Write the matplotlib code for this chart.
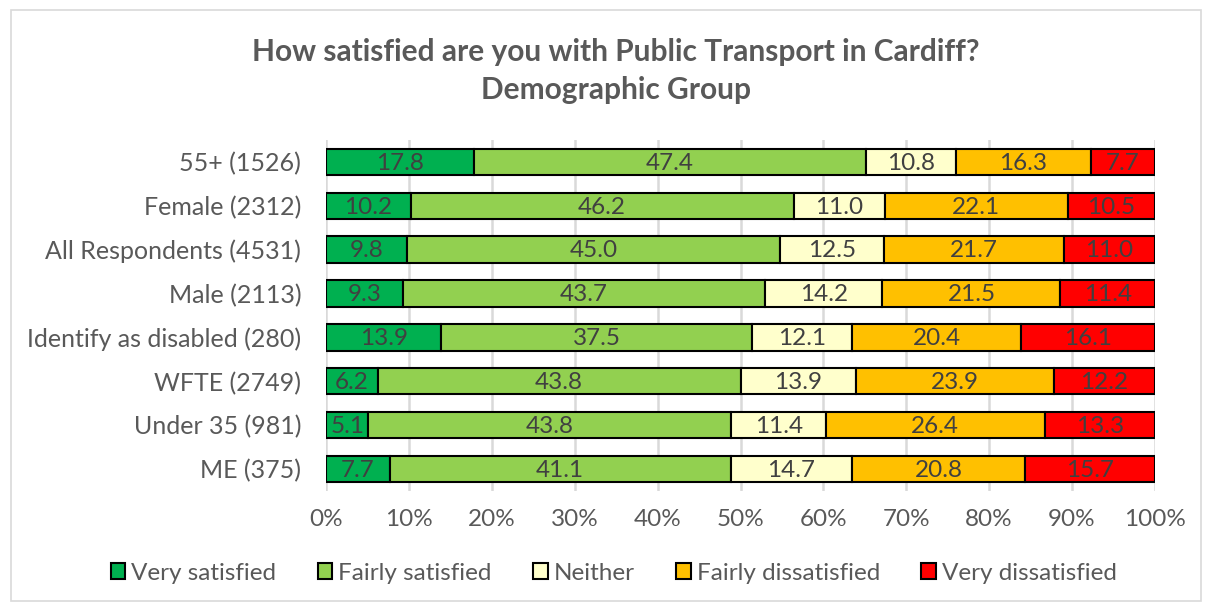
import matplotlib.pyplot as plt
import numpy as np
from matplotlib.patches import Rectangle

plt.rcParams['font.family'] = ['Lato', 'DejaVu Sans']

groups = ['55+ (1526)', 'Female (2312)', 'All Respondents (4531)', 'Male (2113)',
          'Identify as disabled (280)', 'WFTE (2749)', 'Under 35 (981)', 'ME (375)']
very_sat = [17.8, 10.2, 9.8, 9.3, 13.9, 6.2, 5.1, 7.7]
fairly_sat = [47.4, 46.2, 45.0, 43.7, 37.5, 43.8, 43.8, 41.1]
neither = [10.8, 11.0, 12.5, 14.2, 12.1, 13.9, 11.4, 14.7]
fairly_dis = [16.3, 22.1, 21.7, 21.5, 20.4, 23.9, 26.4, 20.8]
very_dis = [7.7, 10.5, 11.0, 11.4, 16.1, 12.2, 13.3, 15.7]

series = [('Very satisfied', very_sat, '#00B050'),
          ('Fairly satisfied', fairly_sat, '#92D050'),
          ('Neither', neither, '#FFFFCC'),
          ('Fairly dissatisfied', fairly_dis, '#FFC000'),
          ('Very dissatisfied', very_dis, '#FF0000')]

fig = plt.figure(figsize=(12.08, 6.06), dpi=100)
ax = fig.add_axes([0.270, 0.190, 0.686, 0.579])

y = np.arange(len(groups))
left = np.zeros(len(groups))
tot = np.array([very_sat, fairly_sat, neither, fairly_dis, very_dis]).sum(axis=0)
for name, vals, col in series:
    vals = np.array(vals)
    w = vals / tot
    bars = ax.barh(y, w, left=left, height=0.6, color=col, edgecolor='black',
                   linewidth=1.5, label=name, zorder=3)
    for i, b in enumerate(bars):
        ax.text(left[i] + w[i] / 2, y[i] + 0.03, f'{vals[i]:.1f}', ha='center', va='center',
                fontsize=17.5, color='#404040', zorder=4)
    left += w

ax.set_ylim(len(groups) - 0.5, -0.5)
ax.set_xlim(0, 1)
ax.set_xticks(np.arange(0, 1.01, 0.1))
ax.set_xticklabels([f'{int(round(t * 100))}%' for t in np.arange(0, 1.01, 0.1)])
ax.set_yticks(y)
ax.set_yticklabels(groups)
ax.tick_params(axis='both', length=0, labelsize=18, colors='#595959')
ax.tick_params(axis='x', labelsize=17.5, pad=13)
ax.tick_params(axis='y', pad=18)
ax.grid(axis='x', color='#D9D9D9', linewidth=1.8, zorder=0)
for s in ax.spines.values():
    s.set_visible(False)

fig.text(0.510, 0.914, 'How satisfied are you with Public Transport in Cardiff?',
         ha='center', va='center', fontsize=21.5, fontweight='bold', color='#595959')
fig.text(0.510, 0.851, 'Demographic Group',
         ha='center', va='center', fontsize=21.5, fontweight='bold', color='#595959')

leg = fig.legend(loc='center', bbox_to_anchor=(0.508, 0.054), ncol=5, frameon=False,
                 fontsize=17.5, handlelength=0.6, handleheight=0.6, handletextpad=0.25,
                 columnspacing=1.7, labelcolor='#595959')

fig.add_artist(Rectangle((0.009, 0.008), 0.985, 0.976, transform=fig.transFigure,
                         fill=False, edgecolor='#D9D9D9', linewidth=1.2))

fig.savefig('out.png', dpi=100)
